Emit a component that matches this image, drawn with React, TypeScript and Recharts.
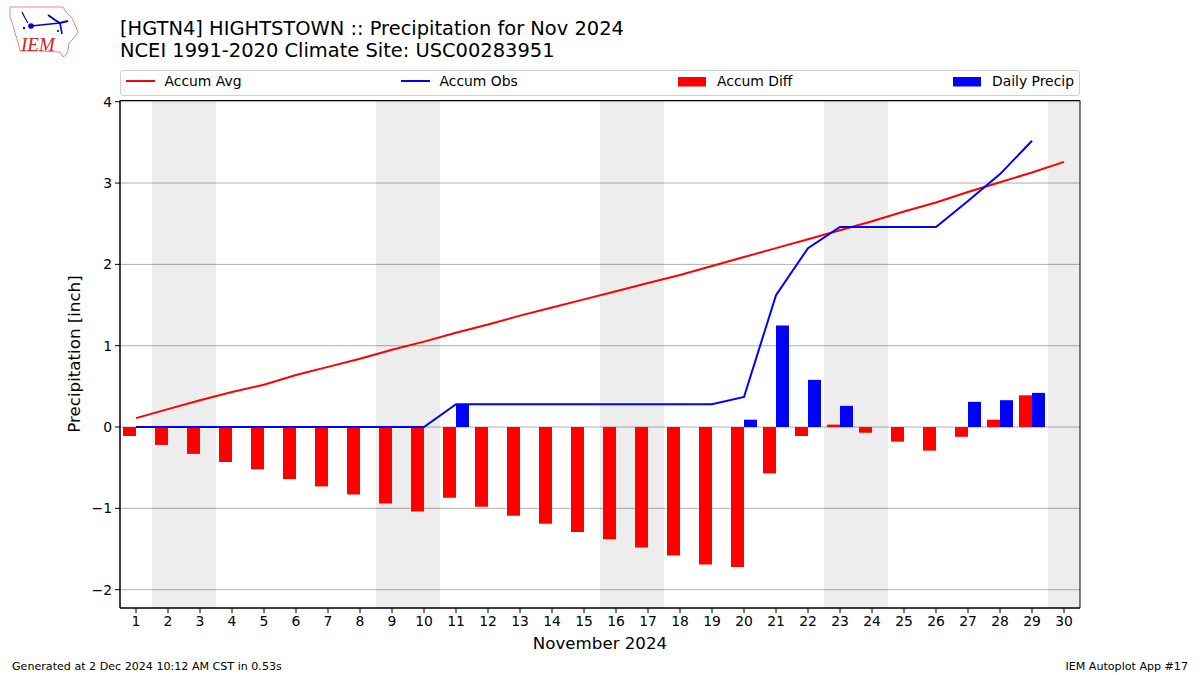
import React from "react";
import { ComposedChart, Bar, Line, XAxis, YAxis, CartesianGrid, ReferenceArea } from "recharts";

const days = Array.from({ length: 30 }, (_, i) => i + 1);
const accumAvg = [0.11, 0.22, 0.33, 0.43, 0.52, 0.64, 0.74, 0.84, 0.95, 1.05, 1.16, 1.26, 1.37, 1.47, 1.57, 1.67, 1.77, 1.87, 1.98, 2.09, 2.2, 2.31, 2.42, 2.53, 2.65, 2.76, 2.89, 3.01, 3.13, 3.26];
const accumObs = [0, 0, 0, 0, 0, 0, 0, 0, 0, 0, 0.28, 0.28, 0.28, 0.28, 0.28, 0.28, 0.28, 0.28, 0.28, 0.37, 1.62, 2.2, 2.46, 2.46, 2.46, 2.46, 2.78, 3.11, 3.52, null];
const accumDiff = [-0.11, -0.22, -0.33, -0.43, -0.52, -0.64, -0.73, -0.83, -0.94, -1.04, -0.87, -0.98, -1.09, -1.19, -1.29, -1.38, -1.48, -1.58, -1.69, -1.72, -0.57, -0.11, 0.03, -0.07, -0.18, -0.29, -0.12, 0.09, 0.39, null];
const dailyPrecip = [null, null, null, null, null, null, null, null, null, null, 0.28, null, null, null, null, null, null, null, null, 0.09, 1.25, 0.58, 0.26, null, null, null, 0.31, 0.33, 0.42, null];
const weekendBands = [[1.5, 3.5], [8.5, 10.5], [15.5, 17.5], [22.5, 24.5], [29.5, 30.5]];
const yTicks = [-2, -1, 0, 1, 2, 3, 4];
const yMin = -2.225;
const yMax = 4.015;

const titleLines = ["[HGTN4] HIGHTSTOWN :: Precipitation for Nov 2024", "NCEI 1991-2020 Climate Site: USC00283951"];
const legendItems = [
  { label: "Accum Avg", color: "#ff0000", kind: "line", x: 126 },
  { label: "Accum Obs", color: "#0000ff", kind: "line", x: 401 },
  { label: "Accum Diff", color: "#ff0000", kind: "bar", x: 678 },
  { label: "Daily Precip", color: "#0000ff", kind: "bar", x: 953 },
];

const data = days.map((day, i) => ({
  day,
  avg: accumAvg[i],
  obs: accumObs[i],
  diff: accumDiff[i],
  precip: dailyPrecip[i],
}));

const font = "'DejaVu Sans', sans-serif";
const abs = (x: number, y: number, size: number, extra: React.CSSProperties = {}): React.CSSProperties => ({
  position: "absolute", left: x, top: y, fontSize: size, fontFamily: font, color: "#000", whiteSpace: "pre", lineHeight: 1, ...extra,
});

function Logo() {
  return (
    <svg style={{ position: "absolute", left: 0, top: 0 }} width={90} height={65}>
      <path d="M10 7 L40 7 L63 7 L66 12 L72 18 L75 25 L78 32 L74 38 L69 43 L68 50 L66 55 L63 57 L60 52 L40 51 L20 51 L18 42 L15 33 L13 25 L10 17 Z" fill="#fff" stroke="#e58a8a" strokeWidth={1} />
      <path d="M22 12 L25 18 L28 23" fill="none" stroke="#0000cc" strokeWidth={1.2} />
      <path d="M31 26 L60 23" fill="none" stroke="#0000cc" strokeWidth={1.6} />
      <path d="M48 15 L55 20 L60 23 L68 21" fill="none" stroke="#0000cc" strokeWidth={2} />
      <path d="M60 23 L62 34" fill="none" stroke="#0000cc" strokeWidth={1.6} />
      <circle cx={31} cy={26} r={2.8} fill="#0000cc" />
      <circle cx={24} cy={28} r={1.2} fill="#0000cc" />
      <circle cx={58} cy={31} r={1.1} fill="#0000cc" />
      <text x={21} y={51} fontFamily="'Liberation Serif', serif" fontStyle="italic" fontSize={19} fill="#d42020">IEM</text>
    </svg>
  );
}

function ChartLegend() {
  return (
    <div style={{ position: "absolute", left: 120, top: 70, width: 958, height: 24, border: "1px solid #d0d0d0", borderRadius: 3, background: "#fff" }}>
      <svg style={{ position: "absolute", left: -121, top: -71 }} width={1200} height={100}>
        {legendItems.map((it) =>
          it.kind === "line" ? (
            <line key={it.label} x1={it.x} x2={it.x + 29} y1={81} y2={81} stroke={it.color} strokeWidth={2} />
          ) : (
            <rect key={it.label} x={it.x} y={77} width={28} height={9.5} fill={it.color} />
          ),
        )}
      </svg>
      {legendItems.map((it) => (
        <div key={it.label} style={abs(it.x + (it.kind === "line" ? 38.5 : 39) - 121, 3.5, 13.9)}>{it.label}</div>
      ))}
    </div>
  );
}

export default function App() {
  return (
    <div style={{ position: "absolute", left: 0, top: 0, width: 1200, height: 675, background: "#fff", overflow: "hidden" }}>
      <Logo />
      <div style={abs(120, 19, 19.44)}>{titleLines[0]}</div>
      <div style={abs(120, 41, 19.44)}>{titleLines[1]}</div>
      <ChartLegend />
      <div style={{ position: "absolute", left: 0, top: 0 }}>
        <ComposedChart
          width={1200}
          height={675}
          data={data}
          barGap={0}
          barSize={13}
          margin={{ top: 100.5, right: 120, bottom: 37, left: 70 }}
          style={{ fontFamily: font }}
        >
          <CartesianGrid horizontal vertical={false} stroke="#b0b0b0" strokeWidth={1} syncWithTicks />
          {weekendBands.map(([a, b]) => (
            <ReferenceArea key={a} x1={a} x2={b} y1={yMin} y2={yMax} fill="#000" fillOpacity={0.07} stroke="none" />
          ))}
          <ReferenceArea x1={0.5} x2={30.5} y1={yMin} y2={yMax} fill="none" stroke="#000" strokeWidth={1} />
          <XAxis
            dataKey="day"
            type="number"
            domain={[0.5, 30.5]}
            ticks={days}
            interval={0}
            allowDataOverflow
            height={30}
            tickSize={5}
            tickMargin={3}
            stroke="#000"
            tick={{ fill: "#000", fontSize: 13.9 }}
          />
          <YAxis
            type="number"
            domain={[yMin, yMax]}
            ticks={yTicks}
            interval={0}
            allowDataOverflow
            width={50}
            tickSize={5}
            tickMargin={3}
            stroke="#000"
            tick={{ fill: "#000", fontSize: 13.9 }}
            tickFormatter={(v: number) => String(v).replace("-", "\u2212")}
          />
          <Bar dataKey="diff" fill="#ff0000" isAnimationActive={false} />
          <Bar dataKey="precip" fill="#0000ff" isAnimationActive={false} />
          <Line dataKey="avg" stroke="#ff0000" strokeWidth={2} dot={false} activeDot={false} isAnimationActive={false} type="linear" />
          <Line dataKey="obs" stroke="#0000ff" strokeWidth={2} dot={false} activeDot={false} isAnimationActive={false} type="linear" />
        </ComposedChart>
      </div>
      <div style={abs(600, 636, 16.67, { transform: "translateX(-50%)" })}>November 2024</div>
      <div style={abs(75, 354, 16.67, { transform: "translate(-50%,-50%) rotate(-90deg)" })}>Precipitation [inch]</div>
      <div style={abs(12, 661, 11.1)}>Generated at 2 Dec 2024 10:12 AM CST in 0.53s</div>
      <div style={abs(1188, 661, 11.1, { transform: "translateX(-100%)" })}>IEM Autoplot App #17</div>
    </div>
  );
}
